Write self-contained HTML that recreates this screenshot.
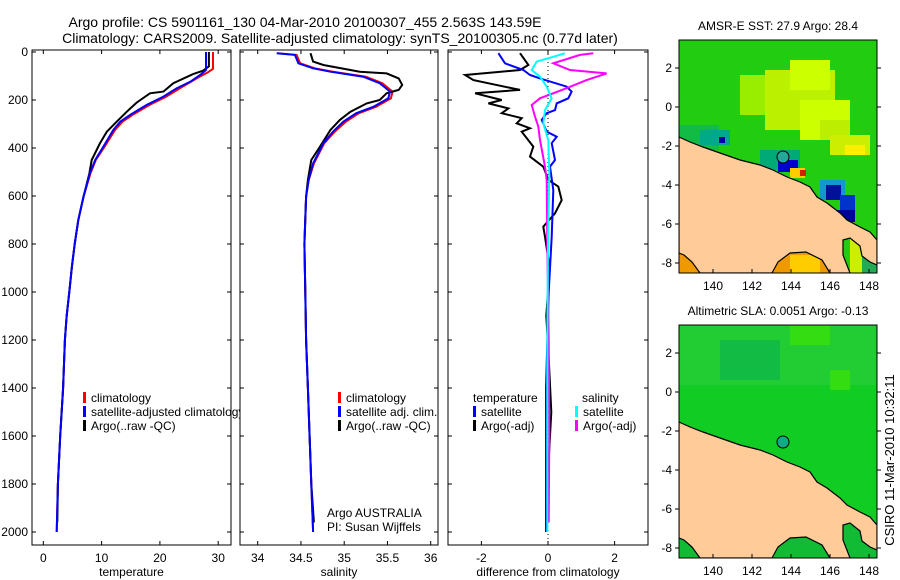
<!DOCTYPE html>
<html><head><meta charset="utf-8"><style>
body{margin:0;background:#fff;width:900px;height:580px;overflow:hidden}
svg{display:block;font-family:"Liberation Sans",sans-serif}
text{fill:#000}
</style></head><body>
<svg id="fig" width="900" height="580" viewBox="0 0 900 580">
<text x="305" y="27" font-size="14" text-anchor="middle">Argo profile: CS 5901161_130 04-Mar-2010 20100307_455 2.563S 143.59E</text>
<text x="340" y="43" font-size="14" text-anchor="middle">Climatology: CARS2009. Satellite-adjusted climatology: synTS_20100305.nc (0.77d later)</text>
<g id="panels"></g>
<g id="maps"></g>
<text transform="translate(894,460) rotate(-90)" font-size="13" text-anchor="middle">CSIRO 11-Mar-2010 10:32:11</text>
</svg>
<script>
// ---- data ----
const depthTicks=[0,200,400,600,800,1000,1200,1400,1600,1800,2000];
const tempTicks=[0,10,20,30];
const salTicks=[34,34.5,35,35.5,36];
const salTickLabels=["34","34.5","35","35.5","36"];
const diffTicks=[-2,0,2];
const tempClimDepth=[0,70,85,110,150,186,221,262,290,325,395,450,505,603,700,797,894,992,1103,1200,1400,1600,1800,2000];
const tempClimVals=[29.1,29.1,28.2,26.3,23.5,21.1,18.2,15.3,13.6,12.3,10.5,9.0,8.1,6.9,6.0,5.4,4.9,4.5,4.0,3.7,3.4,2.9,2.5,2.3];
const tempSatDepth=[0,75,96,124,151,186,221,262,290,325,395,450,505,603,700,797,894,992,1103,1200,1400,1600,1800,2000];
const tempSatVals=[27.9,27.9,26.9,25.2,22.9,20.6,17.7,14.9,13.2,12.0,10.3,8.9,8.0,6.9,6.0,5.4,4.9,4.5,4.0,3.7,3.4,2.9,2.5,2.3];
const tempArgoDepth=[0,60,78,92,130,165,172,211,249,290,332,381,450,505,603,700,797,894,992,1103,1200,1400,1600,1800,1960];
const tempArgoVals=[28.4,28.4,27.4,25.7,22.3,20.6,18.3,16.0,14.3,12.6,10.9,9.7,8.3,7.9,6.9,6.0,5.4,4.9,4.5,4.0,3.7,3.4,2.9,2.5,2.4];
const salClimDepth=[5,12,47,68,82,103,130,165,193,228,255,290,332,380,464,533,603,800,1000,1200,1400,1600,1800,2000];
const salClimVals=[34.23,34.45,34.49,34.66,34.87,35.25,35.44,35.56,35.54,35.37,35.17,35.02,34.89,34.77,34.65,34.59,34.56,34.54,34.55,34.56,34.58,34.6,34.62,34.64];
const salSatDepth=[5,12,47,68,82,103,130,165,193,228,255,290,332,380,464,533,603,800,1000,1200,1400,1600,1800,2000];
const salSatVals=[34.22,34.43,34.47,34.64,34.84,35.22,35.41,35.53,35.51,35.34,35.14,34.99,34.87,34.76,34.64,34.59,34.56,34.54,34.55,34.56,34.58,34.6,34.62,34.64];
const salArgoDepth=[5,40,54,82,89,110,137,158,172,200,214,249,283,325,394,450,533,603,800,1000,1200,1400,1600,1800,1960];
const salArgoVals=[34.61,34.64,34.76,35.18,35.49,35.63,35.67,35.63,35.49,35.41,35.26,35.07,34.95,34.84,34.72,34.62,34.58,34.56,34.54,34.55,34.56,34.58,34.6,34.62,34.65];
const dTSatDepth=[5,47,75,96,110,144,165,193,214,242,255,283,332,353,380,450,478,575,770,1000,1400,2000];
const dTSatVals=[-1.49,-1.29,-0.74,-0.54,-0.24,0.56,0.71,0.61,0.26,0.21,-0.04,-0.19,-0.04,0.26,0.11,0.21,0.06,0.16,0.11,0.02,-0.06,-0.06];
const dTArgoDepth=[5,54,75,96,117,158,172,200,214,235,255,276,297,318,332,394,436,478,533,561,617,672,728,770,900,1100,1300,1500,1700,1960];
const dTArgoVals=[-0.84,-0.59,-0.84,-2.49,-2.24,-0.84,-2.19,-1.39,-1.79,-1.19,-1.39,-0.79,-0.94,-0.54,-0.79,-0.44,-0.54,-0.14,0.01,0.31,0.41,0.21,-0.14,-0.09,0.05,-0.05,0.03,0.1,0.02,0.0];
const dSSatDepth=[5,20,40,75,103,144,193,242,297,367,505,800,1200,2000];
const dSSatVals=[0.51,0.16,-0.34,-0.49,-0.24,-0.04,0.11,-0.09,-0.14,0.01,0.04,0.0,-0.02,-0.02];
const dSArgoDepth=[5,12,47,75,89,117,151,193,221,269,311,367,478,533,800,1200,1600,1960];
const dSArgoVals=[1.36,0.96,0.16,0.66,1.76,1.16,0.56,-0.24,-0.49,-0.39,-0.29,-0.24,-0.09,-0.04,-0.02,0.02,0.04,0.02];

const NS='http://www.w3.org/2000/svg';
function mk(tag,attrs,parent){const e=document.createElementNS(NS,tag);for(const k in attrs)e.setAttribute(k,attrs[k]);parent.appendChild(e);return e;}
const yD=d=>52+0.24*d;
const PT=50,PB=545;
const panelsG=document.getElementById('panels');

function panel(name,x0,x1,xs,ticks,labels,title){
  const g=mk('g',{},panelsG);
  
  
  mk('rect',{x:x0,y:PT,width:x1-x0,height:PB-PT,fill:'#fff',stroke:'none'},g);
  const cid='clip-'+name;
  const cp=mk('clipPath',{id:cid},g);mk('rect',{x:x0,y:PT,width:x1-x0,height:PB-PT},cp);
  const inner=mk('g',{'clip-path':'url(#'+cid+')'},g);
  ticks.forEach((t,i)=>{const x=xs(t);
    mk('line',{x1:x,x2:x,y1:PT,y2:PT+4,stroke:'#000'},g);
    mk('line',{x1:x,x2:x,y1:PB,y2:PB-4,stroke:'#000'},g);
    const tl=mk('text',{x:x,y:562,'font-size':12,'text-anchor':'middle'},g);tl.textContent=labels[i];
    
    });
  depthTicks.forEach(d=>{const y=yD(d);
    mk('line',{x1:x0,x2:x0+4,y1:y,y2:y,stroke:'#000'},g);
    mk('line',{x1:x1,x2:x1-4,y1:y,y2:y,stroke:'#000'},g);});
  const at=mk('text',{x:(x0+x1)/2,y:576,'font-size':12,'text-anchor':'middle'},g);at.textContent=title;
  
  
  return {g,inner,x0,x1};
}
function line(p,xs,depths,vals,color,name){
  const pts=depths.map((d,i)=>xs(vals[i]).toFixed(1)+','+yD(d).toFixed(1)).join(' ');
  const l=mk('polyline',{points:pts,fill:'none',stroke:color,'stroke-width':2},p.inner);
  
  
}
function border(p){mk('rect',{x:p.x0,y:PT,width:p.x1-p.x0,height:PB-PT,fill:'none',stroke:'#000','stroke-width':1},p.g);}
function legend(p,x,y,items){
  items.forEach((it,i)=>{const yy=y+i*14;
    if(it[1]){mk('rect',{x:x,y:yy-10,width:3,height:11,fill:it[1]},p.g);}
    const t=mk('text',{x:x+(it[1]?8:0),y:yy,'font-size':12},p.g);t.textContent=it[0];
    
    });
}
// Panel 1
const xT=v=>43.3+5.83*v;
const p1=panel('temperature-panel',32,231,xT,tempTicks,tempTicks.map(String),'temperature');
line(p1,xT,tempClimDepth,tempClimVals,'#f00','temp-climatology-line');
line(p1,xT,tempArgoDepth,tempArgoVals,'#000','temp-argo-line');
line(p1,xT,tempSatDepth,tempSatVals,'#00f','temp-satellite-line');
depthTicks.forEach(d=>{const t=mk('text',{x:28,y:yD(d)+4,'font-size':12,'text-anchor':'end'},panelsG);t.textContent=String(d);
  
  });
legend(p1,83,402,[['climatology','#f00'],['satellite-adjusted climatology','#00f'],['Argo(..raw -QC)','#000']]);
border(p1);
// Panel 2
const xS=v=>257.7+86.5*(v-34);
const p2=panel('salinity-panel',240,438,xS,salTicks,salTickLabels,'salinity');
line(p2,xS,salClimDepth,salClimVals,'#f00','sal-climatology-line');
line(p2,xS,salArgoDepth,salArgoVals,'#000','sal-argo-line');
line(p2,xS,salSatDepth,salSatVals,'#00f','sal-satellite-line');
legend(p2,338,402,[['climatology','#f00'],['satellite adj. clim.','#00f'],['Argo(..raw -QC)','#000']]);
legend(p2,327,517,[['Argo AUSTRALIA',null],['PI: Susan Wijffels',null]]);
border(p2);
// Panel 3
const xDf=v=>548+33.3*v;
const p3=panel('difference-panel',448,648,xDf,diffTicks,diffTicks.map(String),'difference from climatology');
mk('line',{x1:xDf(0),x2:xDf(0),y1:PT,y2:PB,stroke:'#000','stroke-dasharray':'1,3'},p3.inner);
line(p3,xDf,dTArgoDepth,dTArgoVals,'#000','diff-temp-argo-line');
line(p3,xDf,dTSatDepth,dTSatVals,'#00f','diff-temp-satellite-line');
line(p3,xDf,dSArgoDepth,dSArgoVals,'#f0f','diff-sal-argo-line');
line(p3,xDf,dSSatDepth,dSSatVals,'#0ff','diff-sal-satellite-line');
legend(p3,473,402,[['temperature',null]]);
legend(p3,473,416,[['satellite','#00f'],['Argo(-adj)','#000']]);
legend(p3,582,402,[['salinity',null]]);
legend(p3,575,416,[['satellite','#0ff'],['Argo(-adj)','#f0f']]);
border(p3);

// ---- maps ----
const mapsG=document.getElementById('maps');
const lonTicks=[140,142,144,146,148];
const latTicks=[2,0,-2,-4,-6,-8];
const coast=[[679,137],[690,142],[703,147],[720,153],[740,160],[760,165],[773,170],[787,177],[800,182],[810,187],[817,197],[827,203],[840,213],[847,220],[860,227],[870,232],[877,240],[877,265],[870,262],[862,256],[860,246],[850,238],[843,240],[843,255],[850,273],[830,273],[822,260],[806,252],[790,253],[778,262],[772,273],[700,273],[692,262],[684,255],[679,253]];
function map(name,top,titleText,ocean,blobs){
  const off=top-40;
  const g=mk('g',{},mapsG);
  
  
  const cid='clip-'+name;
  const cp=mk('clipPath',{id:cid},g);mk('rect',{x:679,y:top,width:198,height:233},cp);
  const inner=mk('g',{'clip-path':'url(#'+cid+')'},g);
  mk('rect',{x:679,y:top,width:198,height:233,fill:ocean},inner);
  blobs.forEach(b=>mk('rect',{x:b[0],y:b[1]+off,width:b[2],height:b[3],fill:b[4]},inner));
  const land=mk('polygon',{points:coast.map(p=>p[0]+','+(p[1]+off)).join(' '),fill:'#fc9',stroke:'#000','stroke-width':1.2},inner);
  
  
  const c=mk('circle',{cx:783,cy:157+off,r:6,fill:name==='sst-map'?'#2a9':'#1a8',stroke:'#000'},inner);
  
  
  mk('rect',{x:679,y:top,width:198,height:233,fill:'none',stroke:'#000'},g);
  const lonX=l=>713+19.5*(l-140), latY=l=>107+off-19.5*l;
  lonTicks.forEach(l=>{mk('line',{x1:lonX(l),x2:lonX(l),y1:top+233,y2:top+229,stroke:'#000'},g);
    const t=mk('text',{x:lonX(l),y:top+250,'font-size':12,'text-anchor':'middle'},g);t.textContent=l;
    
    });
  latTicks.forEach(l=>{mk('line',{x1:877,x2:881,y1:latY(l),y2:latY(l),stroke:'#000'},g);
    mk('line',{x1:675,x2:679,y1:latY(l),y2:latY(l),stroke:'#000'},g);
    const t=mk('text',{x:672,y:latY(l)+4,'font-size':12,'text-anchor':'end'},g);t.textContent=l;
    
    });
  const tt=mk('text',{x:778,y:top-10,'font-size':12,'text-anchor':'middle'},g);tt.textContent=titleText;
  
  
}
map('sst-map',40,'AMSR-E SST: 27.9 Argo: 28.4','#22cc11',[
 [740,75,80,40,'#99ee00'],[765,70,70,60,'#bbf000'],[790,60,40,30,'#ccff00'],[800,100,50,40,'#ccff00'],[820,120,30,20,'#bbee00'],
 [679,125,40,25,'#11bb44'],[700,130,30,15,'#00aa88'],[719,137,6,6,'#0000aa'],[760,150,40,20,'#00aa77'],[778,160,20,12,'#0000cc'],
 [790,168,15,10,'#ffcc00'],[800,170,6,6,'#cc2200'],[820,180,25,20,'#1199cc'],[826,185,15,15,'#001199'],[840,195,15,15,'#0033cc'],[835,210,20,12,'#000099'],
 [830,135,40,20,'#ccee00'],[845,145,20,10,'#ffee00'],[679,240,20,33,'#ee9900'],[770,250,70,23,'#ee9900'],[790,255,30,18,'#ffcc00'],[850,238,27,35,'#ccee00'],[862,255,15,18,'#22aa55']
]);
map('sla-map',325,'Altimetric SLA: 0.0051 Argo: -0.13','#11cc22',[
 [679,40,198,60,'#22cc33'],[720,55,60,40,'#11bb44'],[830,85,20,20,'#33dd11'],[790,40,40,20,'#33dd11'],[679,240,198,33,'#11bb33']
]);
</script>
</body></html>
